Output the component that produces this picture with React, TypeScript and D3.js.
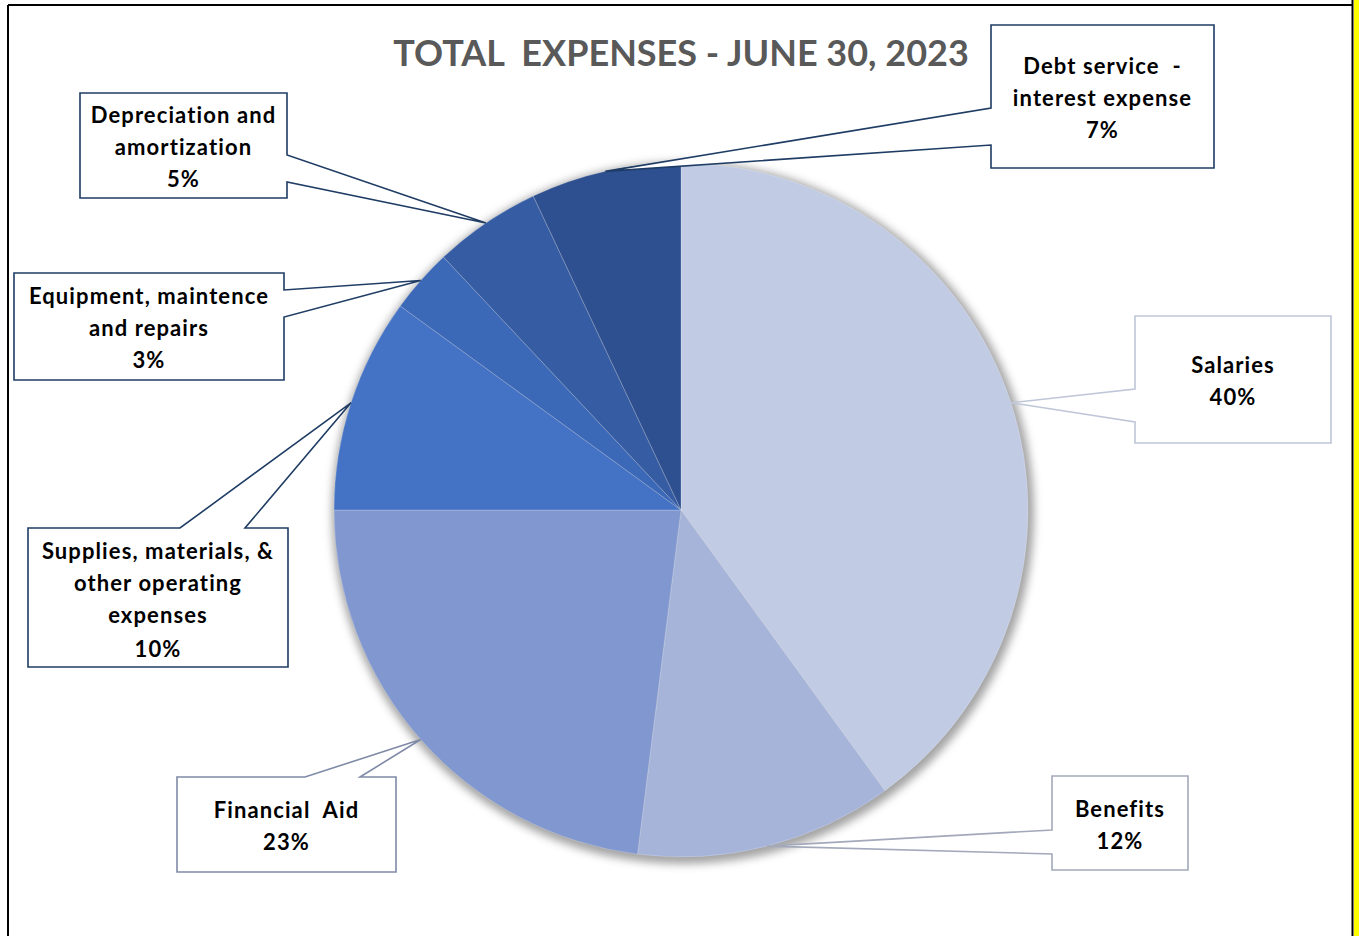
import React from 'react';
import * as d3 from 'd3';

// Expense categories (clockwise from 12 o'clock) and their shares, in %
const categories = [
  'Salaries',
  'Benefits',
  'Financial  Aid',
  'Supplies, materials, & other operating expenses',
  'Equipment, maintence and repairs',
  'Depreciation and amortization',
  'Debt service - interest expense',
];
const values = [40, 12, 23, 10, 3, 5, 7];

// how each label wraps inside its callout
const labelLines = [
  ['Salaries'],
  ['Benefits'],
  ['Financial  Aid'],
  ['Supplies, materials, &', 'other operating', 'expenses'],
  ['Equipment, maintence', 'and repairs'],
  ['Depreciation and', 'amortization'],
  ['Debt service  -', 'interest expense'],
];

const sliceColors = ['#C1CBE3', '#A6B4DA', '#8197CF', '#4472C4', '#3C68B8', '#365DA4', '#2F5090'];
const calloutStroke = ['#BFC6D8', '#A3A9BB', '#7F8AA6', '#1F3C64', '#1F3C64', '#1F3C64', '#1F3C64'];

const title = 'TOTAL  EXPENSES - JUNE 30, 2023';

const W = 1359;
const H = 936;
const cx = 681;
const cy = 510;
const R = 347;

type Box = { x: number; y: number; w: number; h: number; side: 'left' | 'right' | 'top'; n: [number, number] };

// callout box placement (layout only)
const boxes: Box[] = [
  { x: 1135, y: 316, w: 196, h: 127, side: 'left', n: [389, 422] },
  { x: 1052, y: 776, w: 136, h: 94, side: 'left', n: [830, 854] },
  { x: 177, y: 777, w: 219, h: 95, side: 'top', n: [305, 360] },
  { x: 28, y: 528, w: 260, h: 139, side: 'top', n: [180, 245] },
  { x: 14, y: 273, w: 270, h: 107, side: 'right', n: [290, 317] },
  { x: 80, y: 93, w: 207, h: 105, side: 'right', n: [155, 182] },
  { x: 991, y: 25, w: 223, h: 143, side: 'left', n: [108, 145] },
];

function calloutPath(b: Box, tip: [number, number]) {
  const x0 = b.x, y0 = b.y, x1 = b.x + b.w, y1 = b.y + b.h;
  const [tx, ty] = tip;
  let pts: [number, number][] = [];
  if (b.side === 'top') {
    pts = [[x0, y0], [b.n[0], y0], [tx, ty], [b.n[1], y0], [x1, y0], [x1, y1], [x0, y1]];
  } else if (b.side === 'right') {
    pts = [[x0, y0], [x1, y0], [x1, b.n[0]], [tx, ty], [x1, b.n[1]], [x1, y1], [x0, y1]];
  } else {
    pts = [[x0, y0], [x1, y0], [x1, y1], [x0, y1], [x0, b.n[1]], [tx, ty], [x0, b.n[0]]];
  }
  return d3.line()(pts) + 'Z';
}

const App: React.FC = () => {
  const pie = d3.pie<number>().sort(null).value(d => d);
  const arcs = pie(values);
  const arc = d3.arc<d3.PieArcDatum<number>>().innerRadius(0).outerRadius(R);
  const edge = d3.arc<d3.PieArcDatum<number>>().innerRadius(R).outerRadius(R);
  const total = d3.sum(values);
  const fmt = d3.format('.0%');

  return (
    <svg width={W} height={H} style={{ position: 'absolute', left: 0, top: 0, fontFamily: 'Lato, "Open Sans", sans-serif' }}>
      <defs>
        <filter id="shadow" x="-20%" y="-20%" width="140%" height="140%">
          <feGaussianBlur stdDeviation="4" />
        </filter>
      </defs>
      <rect x={0} y={0} width={W} height={H} fill="#fff" />
      {/* frame */}
      <rect x={1354} y={0} width={5} height={H} fill="#FFFF00" />
      <line x1={1352.5} y1={0} x2={1352.5} y2={H} stroke="#000" strokeWidth={2} />
      <line x1={8} y1={5} x2={1352} y2={5} stroke="#000" strokeWidth={2} />
      <line x1={8} y1={5} x2={8} y2={H} stroke="#000" strokeWidth={2} />

      <text x={681} y={66} textAnchor="middle" fontSize={36} fontWeight="bold" fill="#595959" style={{ whiteSpace: 'pre' }}>
        {title}
      </text>

      <g transform={`translate(${cx},${cy})`}>
        <circle cx={2} cy={3} r={R + 4} fill="#9a9a9a" opacity={0.9} filter="url(#shadow)" />
        {arcs.map((a, i) => (
          <path key={categories[i]} d={arc(a) || ''} fill={sliceColors[i]} stroke="#ffffff" strokeOpacity={0.35} strokeWidth={0.6} />
        ))}
      </g>

      {arcs.map((a, i) => {
        const [ex, ey] = edge.centroid(a);
        const b = boxes[i];
        const lines = [...labelLines[i], fmt(values[i] / total)];
        const lh = 32;
        const midY = b.y + b.h / 2 + 2;
        const firstY = midY - ((lines.length - 1) * lh) / 2;
        return (
          <g key={categories[i]}>
            <path d={calloutPath(b, [cx + ex, cy + ey])} fill="#fff" stroke={calloutStroke[i]} strokeWidth={1.6} strokeLinejoin="miter" />
            {lines.map((t, j) => (
              <text
                key={j}
                x={b.x + b.w / 2}
                y={firstY + j * lh + (j === lines.length - 1 && lines.length > 3 ? 2 : 0)}
                dy="0.35em"
                textAnchor="middle"
                fontSize={22}
                fontWeight="bold"
                letterSpacing={1.1}
                fill="#000"
                style={{ whiteSpace: 'pre' }}
              >
                {t}
              </text>
            ))}
          </g>
        );
      })}
    </svg>
  );
};

export default App;
